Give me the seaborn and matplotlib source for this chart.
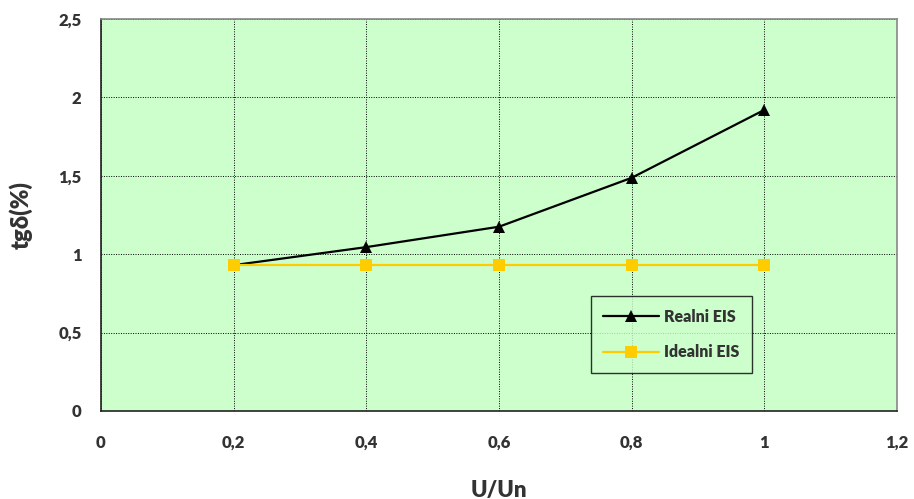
import numpy as np
import pandas as pd
import matplotlib
matplotlib.use("Agg")
import matplotlib.pyplot as plt
import seaborn as sns
from matplotlib.ticker import FuncFormatter

# data
u_un = [0.2, 0.4, 0.6, 0.8, 1.0]
realni = [0.93, 1.045, 1.175, 1.487, 1.92]
idealni = [0.93, 0.93, 0.93, 0.93, 0.93]
series_names = ["Realni EIS", "Idealni EIS"]

df = pd.DataFrame({
    "U/Un": u_un * 2,
    "tg": realni + idealni,
    "serija": [series_names[0]] * 5 + [series_names[1]] * 5,
})

sns.set_style("white")
plt.rcParams["font.family"] = ["Lato", "DejaVu Sans"]
plt.rcParams["font.weight"] = "heavy"

fig = plt.figure(figsize=(9.14, 4.99), dpi=100)
ax = fig.add_axes([0.1105, 0.1764, 0.8709, 0.7856])
ax.set_facecolor("#CCFFCC")

sns.lineplot(data=df, x="U/Un", y="tg", hue="serija", style="serija",
             palette={"Realni EIS": "black", "Idealni EIS": "#FFCC00"},
             markers={"Realni EIS": "^", "Idealni EIS": "s"},
             dashes=False, markersize=8, linewidth=1.6,
             markeredgewidth=0, ax=ax, zorder=3)

ax.set_xlim(0, 1.2)
ax.set_ylim(0, 2.5)
ax.set_xticks(np.arange(0, 1.21, 0.2))
ax.set_yticks(np.arange(0, 2.51, 0.5))
fmt = FuncFormatter(lambda v, p: ("%g" % round(v, 2)).replace(".", ","))
ax.xaxis.set_major_formatter(fmt)
ax.yaxis.set_major_formatter(fmt)
ax.grid(True, color="black", linestyle=(0, (1, 1.5)), linewidth=0.7)
ax.set_axisbelow(True)

for s in ["left", "bottom"]:
    ax.spines[s].set_color("#222222")
    ax.spines[s].set_linewidth(1.2)
for s in ["top", "right"]:
    ax.spines[s].set_color("#888888")
    ax.spines[s].set_linewidth(1.2)

ax.tick_params(axis="both", direction="out", length=5, width=1,
               color="#333333", labelsize=12, labelcolor="#333333")
ax.tick_params(axis="x", pad=12)
ax.tick_params(axis="y", pad=9)
for lab in ax.get_xticklabels() + ax.get_yticklabels():
    lab.set_fontweight("heavy")

ax.set_xlabel("U/Un", fontsize=16, fontweight="heavy", color="#333333", labelpad=21)
ax.set_ylabel("tgδ(%)", fontsize=17, fontweight="heavy", color="#333333", labelpad=18)

leg = ax.legend(title=None, loc="lower left", bbox_to_anchor=(0.615, 0.097),
                frameon=True, fancybox=False, fontsize=11.5,
                borderpad=0.8, labelspacing=1.2, handlelength=3.5,
                handletextpad=0.3, borderaxespad=0)
leg.get_frame().set_edgecolor("black")
leg.get_frame().set_linewidth(1.0)
leg.get_frame().set_facecolor("#CCFFCC")
for t in leg.get_texts():
    t.set_color("#333333")
    t.set_fontweight("heavy")

fig.savefig("out.png", dpi=100)
